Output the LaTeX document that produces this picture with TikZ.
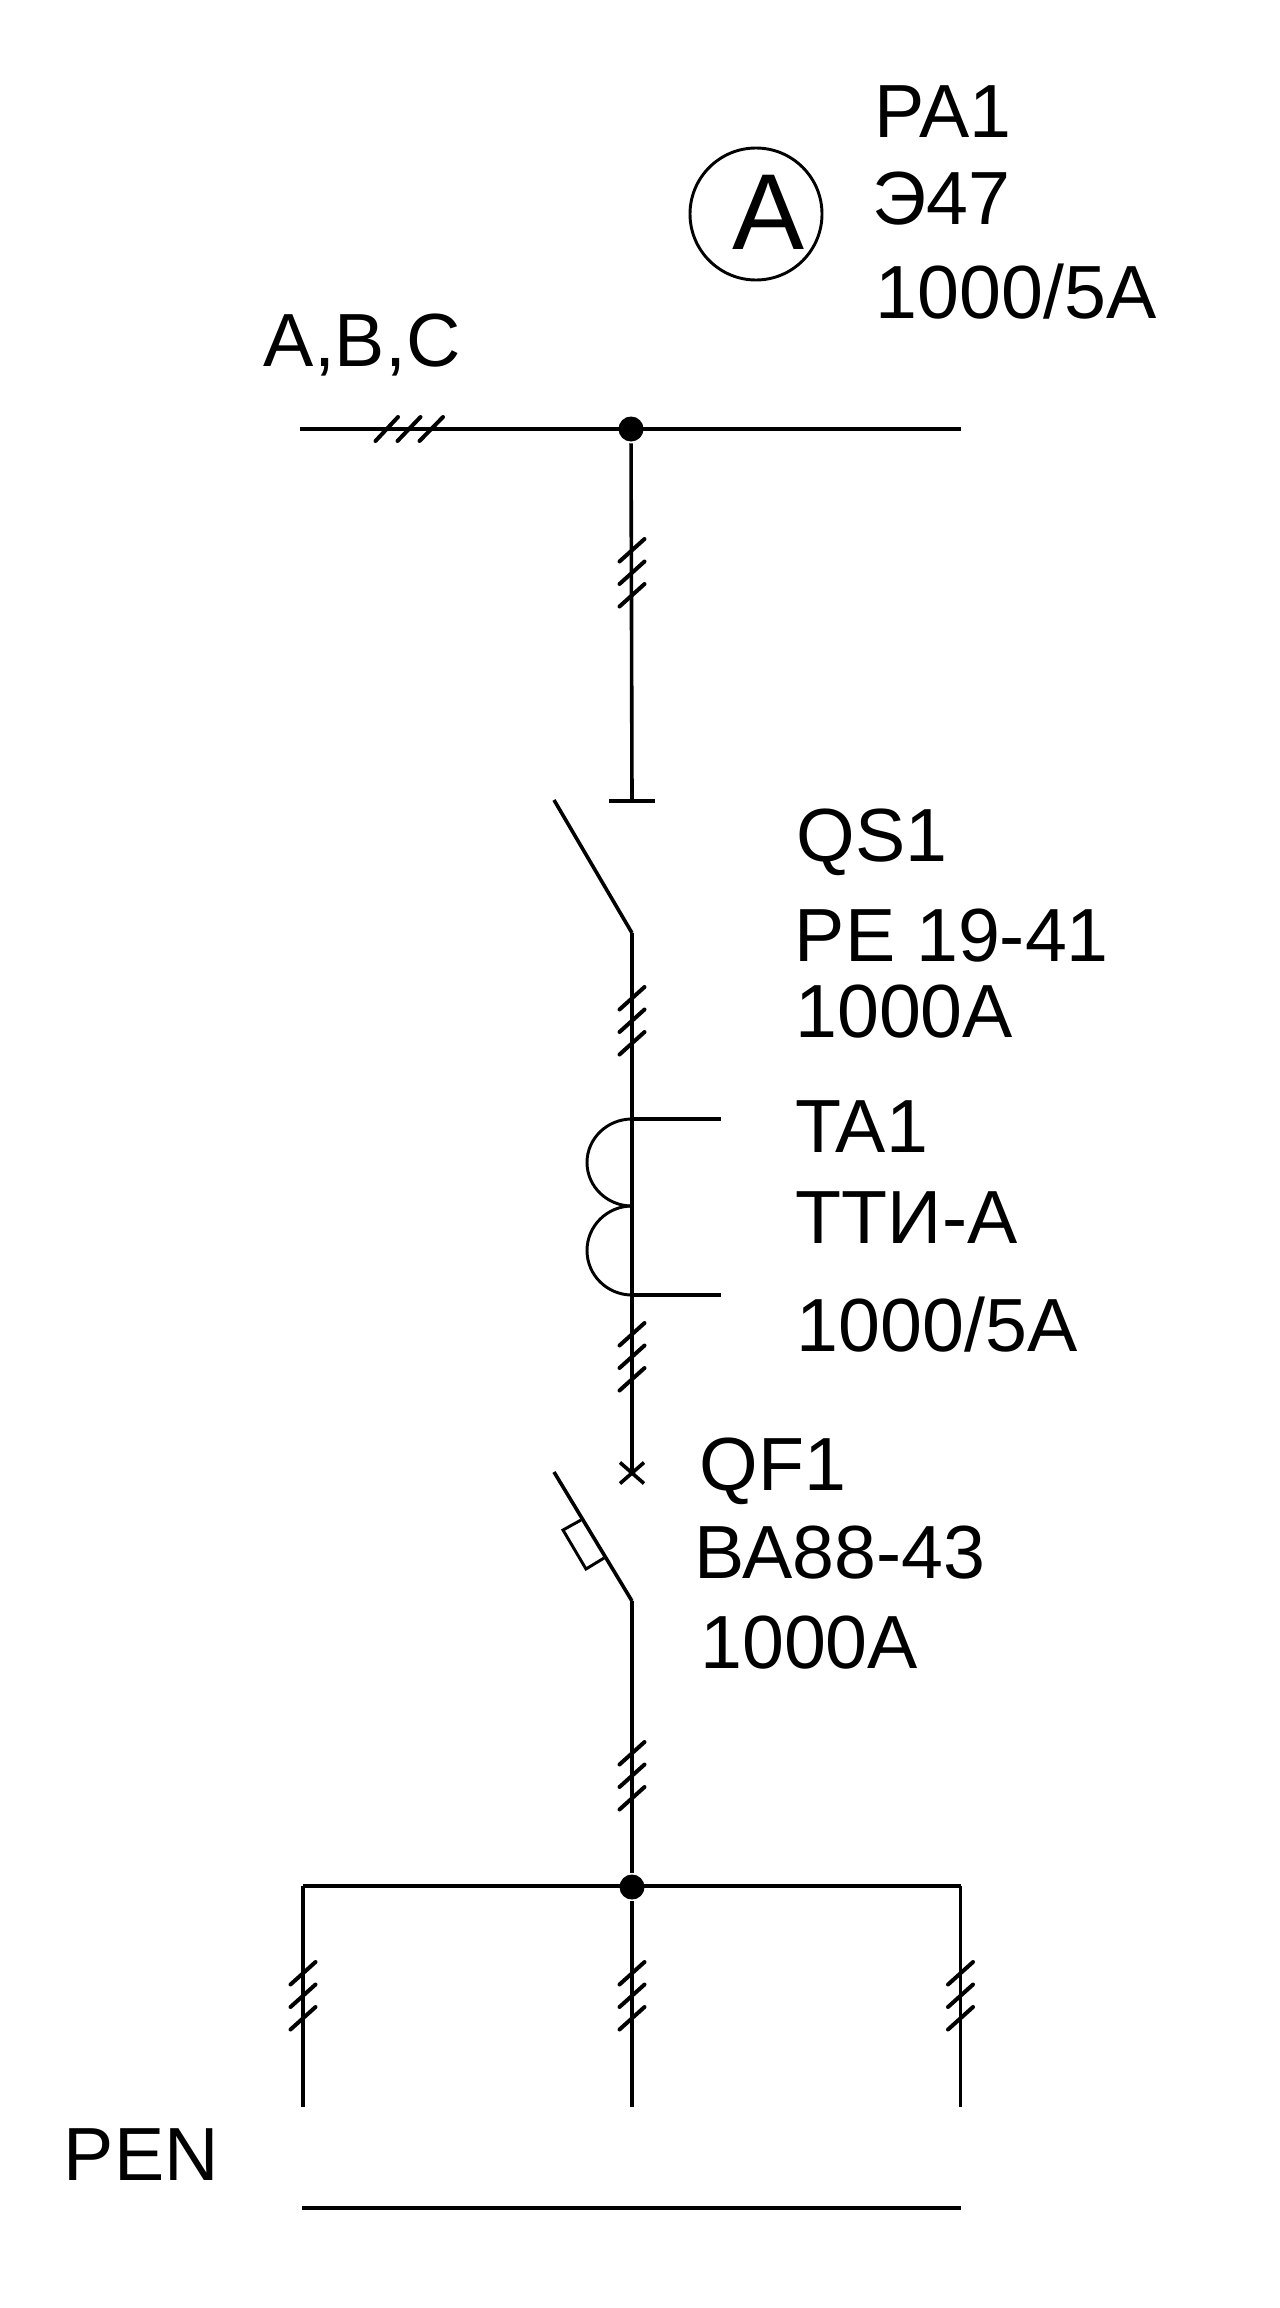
\documentclass[tikz,border=0pt]{standalone}
\usepackage{fontspec}
\setmainfont{Liberation Sans}
\usetikzlibrary{calc}

\tikzset{
	every picture/.style={line width=2.7pt},
	wire/.style={line width=2.7pt},
	thinwire/.style={line width=2.2pt},
	tickwire/.style={line width=3pt,line cap=round},
	heavywire/.style={line width=3.4pt},
	buswire/.style={line width=2.9pt},
	junction/.style={circle,fill=black,inner sep=0pt,minimum size=18.75pt},
	devlabel/.style={anchor=base west,inner sep=0pt,font=\fontsize{56.5}{60}\selectfont},
	phaseticks/.pic={
		\foreach \k in {0,1,2}
			\draw [tickwire] (-12.5,22.5*\k+22.5) -- (12.5,22.5*\k);
	}
}

\begin{document}
\begin{tikzpicture}[x=0.75pt,y=0.75pt,yscale=-1,xscale=1]
	\useasboundingbox (0,0) rectangle (1280,2308);
	
	% Named points
	\coordinate (top_left) at (300,429);
	\coordinate (top_right) at (961,429);
	\coordinate (qs_fixed) at (632,801);
	\coordinate (qs_bar_l) at (609,801);
	\coordinate (qs_bar_r) at (655,801);
	\coordinate (qs_free) at (554,800);
	\coordinate (qs_hinge) at (632,933);
	\coordinate (ta_top) at (632,1119);
	\coordinate (ta_mid) at (632,1206);
	\coordinate (ta_bot) at (632,1295);
	\coordinate (ta_out1) at (721,1119);
	\coordinate (ta_out2) at (721,1295);
	\coordinate (qf_fixed) at (632,1473);
	\coordinate (qf_free) at (554,1472);
	\coordinate (qf_hinge) at (632,1601);
	\coordinate (qf_low) at (632,1811);
	\coordinate (low_left) at (303,1886);
	\coordinate (low_right) at (960.5,1886);
	\coordinate (out_left) at (303,2107);
	\coordinate (out_mid) at (632,2107);
	\coordinate (out_right) at (960.5,2107);
	\coordinate (pen_left) at (302,2208);
	\coordinate (pen_right) at (961,2208);
	
	% Junctions
	\node (top_dot) [junction] at (631,429) {};
	\node (low_dot) [junction] at (632,1887) {};
	
	%Top bus
	\draw [wire] (top_left) -- (top_right);
	\foreach \k in {0,1,2}
		\draw [tickwire] (375.5+22*\k,441) -- (398+22.5*\k,417);
	
	%Disconnector QS1
	\draw [wire] (top_dot) -- (qs_fixed);
	\draw [wire] (qs_bar_l) -- (qs_bar_r);
	\draw [wire] (qs_free) -- (qs_hinge);
	\draw [wire] (qs_hinge) -- (qf_fixed);
	
	%Current transformer TA1
	\draw [thinwire] (ta_top) arc [start angle=-90,end angle=-270,x radius=45,y radius=43.5];
	\draw [thinwire] (ta_mid) arc [start angle=-90,end angle=-270,x radius=45,y radius=44.5];
	\draw [wire] (ta_top) -- (ta_out1);
	\draw [wire] (ta_bot) -- (ta_out2);
	
	%Breaker QF1
	\draw [wire] ($(qf_fixed)+(-12,-10.5)$) -- ($(qf_fixed)+(12,10.5)$);
	\draw [wire] ($(qf_fixed)+(-12,10.5)$) -- ($(qf_fixed)+(12,-10.5)$);
	\draw [wire] (qf_free) -- (qf_hinge);
	\draw [thinwire] (581,1520) -- (563,1530) -- (586,1569) -- (604,1558);
	\draw [wire] (qf_hinge) -- (qf_low);
	\draw [heavywire] (qf_low) -- (low_dot);
	
	%Lower bus and outgoing lines
	\draw [buswire] (low_left) -- (low_right);
	\draw [wire] (low_left) -- (out_left);
	\draw [wire] (low_dot) -- (out_mid);
	\draw [wire] (low_right) -- (out_right);
	\draw [buswire] (pen_left) -- (pen_right);
	
	%Phase ticks
	\path (632,539) pic [transform shape] {phaseticks};
	\path (632,987) pic [transform shape] {phaseticks};
	\path (632,1323) pic [transform shape] {phaseticks};
	\path (632,1742) pic [transform shape] {phaseticks};
	\path (303,1962) pic [transform shape] {phaseticks};
	\path (632,1962) pic [transform shape] {phaseticks};
	\path (960.5,1962) pic [transform shape] {phaseticks};
	
	% Ammeter
	\node (pa_circle) [draw,circle,thinwire,inner sep=0pt,minimum size=99pt] at (756,214) {};
	\node (pa_sign) [anchor=base,inner sep=0pt,font=\fontsize{81}{85}\selectfont] at (769,249) {A};
	
	% Text Node
	\node (pa_name) [devlabel] at (873,138) {PA1};
	% Text Node
	\node (pa_type) [devlabel] at (871,225) {Э47};
	% Text Node
	\node (pa_rate) [devlabel] at (874,318) {1000/5A};
	% Text Node
	\node (phases) [devlabel] at (262,366) {A,B,C};
	% Text Node
	\node (qs_name) [devlabel] at (795,861) {QS1};
	% Text Node
	\node (qs_type) [devlabel] at (793,961) {РЕ 19-41};
	% Text Node
	\node (qs_rate) [devlabel] at (793.5,1037) {1000A};
	% Text Node
	\node (ta_name) [devlabel] at (793.5,1152) {TA1};
	% Text Node
	\node (ta_type) [devlabel] at (794,1243) {ТТИ-А};
	% Text Node
	\node (ta_rate) [devlabel] at (795,1351) {1000/5A};
	% Text Node
	\node (qf_name) [devlabel] at (698,1490) {QF1};
	% Text Node
	\node (qf_type) [devlabel] at (692.5,1578) {ВА88-43};
	% Text Node
	\node (qf_rate) [devlabel] at (698.5,1668) {1000A};
	% Text Node
	\node (pen_name) [devlabel] at (62,2180) {PEN};
\end{tikzpicture}
\end{document}
